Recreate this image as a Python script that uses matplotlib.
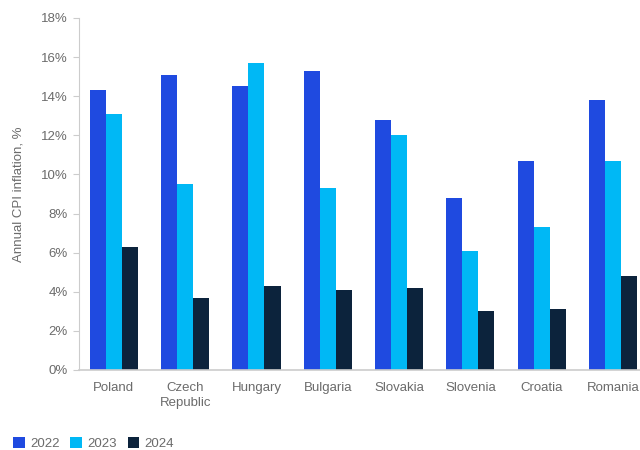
import numpy as np
import matplotlib.pyplot as plt
from matplotlib.ticker import FuncFormatter

plt.rcParams['font.family'] = ['Liberation Sans', 'DejaVu Sans']

countries = ['Poland', 'Czech\nRepublic', 'Hungary', 'Bulgaria', 'Slovakia', 'Slovenia', 'Croatia', 'Romania']
years = ['2022', '2023', '2024']
v2022 = [14.3, 15.1, 14.5, 15.3, 12.8, 8.8, 10.7, 13.8]
v2023 = [13.1, 9.5, 15.7, 9.3, 12.0, 6.1, 7.3, 10.7]
v2024 = [6.3, 3.7, 4.3, 4.1, 4.2, 3.0, 3.1, 4.8]
colors = ['#1f4ae0', '#00b8f5', '#0c233c']
grey = '#6b6b6b'

fig = plt.figure(figsize=(6.4, 4.5), dpi=100)
ax = fig.add_axes([0.1234, 0.178, 0.8766, 0.782])

x = np.arange(len(countries))
w = 0.225
for i, (vals, yr) in enumerate(zip([v2022, v2023, v2024], years)):
    ax.bar(x + (i - 1) * w, vals, w, color=colors[i], label=yr)

ax.set_xlim(-0.49, 7.38)
ax.set_ylim(0, 18)
ax.set_yticks(range(0, 19, 2))
ax.yaxis.set_major_formatter(FuncFormatter(lambda v, p: f'{int(v)}%'))
ax.set_xticks(x)
ax.set_xticklabels(countries, linespacing=1.25)
ax.tick_params(axis='x', length=0, pad=9, labelsize=9.5, labelcolor=grey)
ax.tick_params(axis='y', length=4, width=0.8, color='#cccccc', pad=4, labelsize=9.5, labelcolor=grey)

for s in ['top', 'right']:
    ax.spines[s].set_visible(False)
ax.spines['left'].set_color('#cccccc')
ax.spines['bottom'].set_color('#cccccc')
ax.spines['bottom'].set_linewidth(1.2)

ax.set_ylabel('Annual CPI inflation, %', color=grey, fontsize=9.5, labelpad=12)

fig.legend(loc='lower left', bbox_to_anchor=(0.002, -0.026), ncol=3, frameon=False,
           fontsize=9.5, labelcolor=grey, handlelength=0.9, handleheight=0.9,
           handletextpad=0.4, columnspacing=0.8)

fig.savefig('out.png', dpi=100)
